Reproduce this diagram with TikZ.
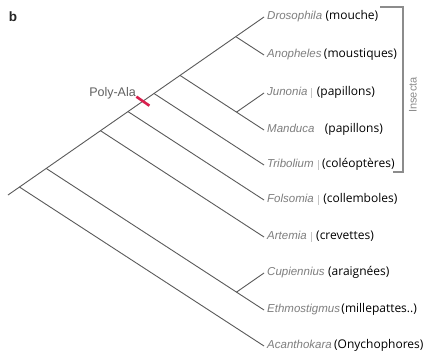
\documentclass[tikz,border=0pt]{standalone}
\usepackage{fontspec}
\setmainfont{Liberation Sans}
\newfontfamily\parenfont{Open Sans}
\usetikzlibrary{calc}
\definecolor{treegray}{HTML}{5A5A5A}
\definecolor{specgray}{HTML}{7E7E7E}
\definecolor{polyred}{HTML}{D8204E}
\definecolor{brgray}{HTML}{8C8C8C}
\definecolor{bargray}{HTML}{C4C4C4}
\tikzset{
  branch/.style={draw=treegray, line width=0.9pt},
  spec/.style={font=\itshape\fontsize{11.5}{14}\selectfont, text=specgray, inner sep=0pt, anchor=mid west},
  paren/.style={font=\parenfont\fontsize{12}{14}\selectfont, text=black, inner sep=0pt, anchor=base west},
  polymark/.style={draw=polyred, line width=2.6pt},
  bracket/.style={draw=brgray, line width=1.3pt},
  residue/.style={draw=bargray, line width=0.6pt}
}
\begin{document}
\begin{tikzpicture}[x=1pt,y=-1pt]
\useasboundingbox (0,0) rectangle (425,356);
\fill[white] (0,0) rectangle (425,356);
% tips
\coordinate (root) at (8,195);
\coordinate (tDro) at (264,17);
\coordinate (tAno) at (264,55);
\coordinate (tJun) at (264,93);
\coordinate (tMan) at (264,130);
\coordinate (tTri) at (264,165);
\coordinate (tFol) at (264,200);
\coordinate (tArt) at (264,237);
\coordinate (tCup) at (264,273);
\coordinate (tEth) at (264,310);
\coordinate (tAca) at (264,346);
% helper points along descending direction
\foreach \n in {Ano,Man,Tri,Fol,Art,Eth,Aca}{\path (t\n) ++(-300,-195) coordinate (q\n);}
\coordinate (bAca) at (intersection of root--tDro and tAca--qAca);
\coordinate (bEth) at (intersection of root--tDro and tEth--qEth);
\coordinate (bArt) at (intersection of root--tDro and tArt--qArt);
\coordinate (bFol) at (intersection of root--tDro and tFol--qFol);
\coordinate (bTri) at (intersection of root--tDro and tTri--qTri);
\coordinate (bMan) at (intersection of root--tDro and tMan--qMan);
\coordinate (bAno) at (intersection of root--tDro and tAno--qAno);
\path (tCup) ++(-100,69.5) coordinate (qCup);
\path (tJun) ++(-100,69.5) coordinate (qJun);
\coordinate (bCup) at (intersection of bEth--tEth and tCup--qCup);
\coordinate (bJun) at (intersection of bMan--tMan and tJun--qJun);
% tree
\draw[branch] (root) -- (tDro);
\foreach \n in {Ano,Man,Tri,Fol,Art,Eth,Aca}{\draw[branch] (b\n) -- (t\n);}
\draw[branch] (bCup) -- (tCup);
\draw[branch] (bJun) -- (tJun);
% Poly-Ala mark
\coordinate (pm) at ($(root)!0.527!(tDro)$);
\coordinate (pmA) at ($(pm)+(-6.5,-4.5)$);
\coordinate (pmB) at ($(pm)+(6.5,4.5)$);
\draw[polymark] (pmA) -- (pmB);
\node[font=\fontsize{12.5}{14}\selectfont, text=black!62, inner sep=0pt, anchor=base east] (poly) at (136,96) {Poly-Ala};
% species labels
\node[spec] (nDro) at ($(tDro)+(3,0)$) {Drosophila};
\node[spec] (nAno) at ($(tAno)+(3,0)$) {Anopheles};
\node[spec] (nJun) at ($(tJun)+(3,0)$) {Junonia};
\node[spec] (nMan) at ($(tMan)+(3,0)$) {Manduca};
\node[spec] (nTri) at ($(tTri)+(3,0)$) {Tribolium};
\node[spec] (nFol) at ($(tFol)+(3,0)$) {Folsomia};
\node[spec] (nArt) at ($(tArt)+(3,0)$) {Artemia};
\node[spec] (nCup) at ($(tCup)+(3,0)$) {Cupiennius};
\node[spec] (nEth) at ($(tEth)+(3,0)$) {Ethmostigmus};
\node[spec] (nAca) at ($(tAca)+(3,0)$) {Acanthokara};
% common names
\node[paren] (pDro) at ($(nDro.base east)+(3,0)$) {(mouche)};
\node[paren] (pAno) at ($(nAno.base east)+(2,0)$) {(moustiques)};
\node[paren] (pJun) at ($(nJun.base east)+(9,0)$) {(papillons)};
\node[paren] (pMan) at ($(nMan.base east)+(10,0)$) {(papillons)};
\node[paren] (pTri) at ($(nTri.base east)+(8,0)$) {(coléoptères)};
\node[paren] (pFol) at ($(nFol.base east)+(9,0)$) {(collemboles)};
\node[paren] (pArt) at ($(nArt.base east)+(9,0)$) {(crevettes)};
\node[paren] (pCup) at ($(nCup.base east)+(3,0)$) {(araignées)};
\node[paren] (pEth) at ($(nEth.base east)+(1,0)$) {(millepattes..)};
\node[paren] (pAca) at ($(nAca.base east)+(2,0)$) {(Onychophores)};
% residue bars
\foreach \n in {Jun,Tri,Fol,Art}{\draw[residue] ($(n\n.base east)+(4,2)$) -- ($(n\n.base east)+(4,-8)$);}
% Insecta bracket
\coordinate (brA) at (380,7);
\coordinate (brB) at (403,7);
\coordinate (brC) at (403,172);
\coordinate (brD) at (393,172);
\draw[bracket] (brA) -- (brB) -- (brC) -- (brD);
\node[rotate=90, font=\fontsize{11}{13}\selectfont, text=brgray, inner sep=0pt] (insecta) at (413,95) {Insecta};
% panel letter
\node[font=\bfseries\fontsize{13.5}{15}\selectfont, text=black!85, inner sep=0pt] (panelb) at (13,17) {b};
\end{tikzpicture}
\end{document}
